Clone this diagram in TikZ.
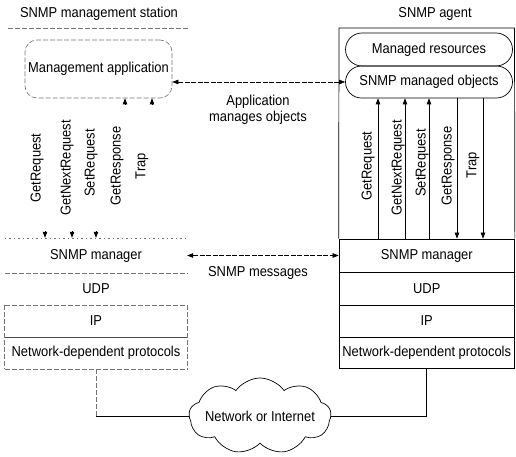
\documentclass[tikz,border=0pt]{standalone}
\usepackage{fontspec}
\setmainfont{Liberation Sans}[FakeStretch=0.9]
\usetikzlibrary{arrows.meta,shapes.symbols,shapes.misc,calc}
\begin{document}
\begin{tikzpicture}[x=1bp,y=-1bp,
  every node/.style={font=\fontsize{14.4}{16}\selectfont, inner sep=0pt},
  ln/.style={line width=0.7bp},
  faint/.style={line width=0.6bp, draw=black!55, dash pattern=on 5bp off 2bp},
  faintdot/.style={line width=0.6bp, draw=black!55, dash pattern=on 1.5bp off 3bp},
  tip/.style={-{Triangle[length=6bp,width=4.5bp]}},
  dtip/.style={{Triangle[length=6bp,width=4.5bp]}-{Triangle[length=6bp,width=4.5bp]}},
  msgline/.style={line width=0.6bp, dash pattern=on 5bp off 1.5bp},
  rrow/.style={draw, line width=0.7bp, minimum width=175.5bp},
  lrow/.style={minimum width=182bp},
  msg/.style={rotate=90},
  pill/.style={rounded rectangle, draw, line width=0.7bp, minimum width=167bp}
]
\useasboundingbox (0,0) rectangle (516,457);

% titles
\node (st) at (99,14) {SNMP management station};
\node (ag) at (435,14) {SNMP agent};

% ---------- agent (right) ----------
\node[rrow, minimum height=33bp] (rmgr) at (426.75,255.5) {SNMP manager};
\node[rrow, minimum height=33bp] (rudp) at (426.75,288.5) {UDP};
\node[rrow, minimum height=32bp] (rip) at (426.75,321) {IP};
\node[rrow, minimum height=31bp] (rndp) at (426.75,352.5) {Network-dependent protocols};
\coordinate (agtl) at (339,28);
\coordinate (agtr) at (514.5,28);
\draw[ln] (rmgr.north west) -- (agtl) -- (agtr) -- (rmgr.north east);

\node[pill, minimum height=33bp] (res) at (429,49.5) {Managed resources};
\node[pill, minimum height=32bp] (objs) at (429,82) {SNMP managed objects};

\coordinate (c1) at (378,0);
\coordinate (c2) at (405,0);
\coordinate (c3) at (429,0);
\coordinate (c4) at (457,0);
\coordinate (c5) at (483,0);
\draw[ln,tip] (c1 |- rmgr.north) -- (c1 |- objs.south);
\draw[ln,tip] (c2 |- rmgr.north) -- (c2 |- objs.south);
\draw[ln,tip] (c3 |- rmgr.north) -- (c3 |- objs.south);
\draw[ln,tip] (c4 |- objs.south) -- (c4 |- rmgr.north);
\draw[ln,tip] (c5 |- objs.south) -- (c5 |- rmgr.north);

\node[msg] (rgr) at (368,166) {GetRequest};
\node[msg] (rgnr) at (398,168) {GetNextRequest};
\node[msg] (rsr) at (422,163) {SetRequest};
\node[msg] (rgrs) at (448,166) {GetResponse};
\node[msg] (rtr) at (473,165) {Trap};

% ---------- station (left) ----------
\coordinate (sttl) at (8,28);
\coordinate (sttr) at (188,28);
\draw[faint] (sttl) -- (sttr);
\node[draw, faint, rounded corners=12bp, minimum width=147bp, minimum height=58bp] (app) at (98.5,69) {Management application};

\node[lrow, minimum height=35bp] (lmgr) at (96,255.5) {SNMP manager};
\node[lrow, minimum height=32bp] (ludp) at (96,289) {UDP};
\node[lrow, minimum height=32bp] (lip) at (96,321) {IP};
\node[lrow, minimum height=32bp] (lndp) at (96,353) {Network-dependent protocols};
\draw[faintdot] (lmgr.north west) -- (lmgr.north east);
\draw[faint] (lmgr.south west) -- (lmgr.south east);
\draw[faint] (lip.north west) -- (lip.north east);
\draw[ln, draw=black!70] (lip.south west) -- (lip.south east);
\draw[faint] (lndp.south west) -- (lndp.south east);
\draw[faint] (lip.north west) -- (lndp.south west);
\draw[faint] (lip.north east) -- (lndp.south east);

\coordinate (d1) at (45,0);
\coordinate (d2) at (72,0);
\coordinate (d3) at (96,0);
\coordinate (u1) at (125,0);
\coordinate (u2) at (152,0);
\draw[ln,tip] ($(d1 |- lmgr.north)+(0,-6.5)$) -- (d1 |- lmgr.north);
\draw[ln,tip] ($(d2 |- lmgr.north)+(0,-6.5)$) -- (d2 |- lmgr.north);
\draw[ln,tip] ($(d3 |- lmgr.north)+(0,-6.5)$) -- (d3 |- lmgr.north);
\draw[ln,tip] ($(u1 |- app.south)+(0,6.5)$) -- (u1 |- app.south);
\draw[ln,tip] ($(u2 |- app.south)+(0,6.5)$) -- (u2 |- app.south);

\node[msg] (lgr) at (37,168) {GetRequest};
\node[msg] (lgnr) at (67,168) {GetNextRequest};
\node[msg] (lsr) at (91,163) {SetRequest};
\node[msg] (lgrs) at (117,166) {GetResponse};
\node[msg] (ltr) at (142,166) {Trap};

% ---------- between ----------
\draw[msgline,dtip] (app.east |- objs.west) -- (objs.west);
\node[align=center] (amo) at (258,110) {Application\\manages objects};
\draw[msgline,dtip] (lmgr.east) -- (rmgr.west);
\node (msgs) at (258,273) {SNMP messages};

% ---------- network ----------
\node[cloud, draw, line width=0.7bp, cloud puffs=9, cloud puff arc=110, aspect=1.85,
      minimum width=142bp, minimum height=76bp, inner sep=0pt] (net) at (260,416) {};
\node (nettxt) at (net.center) {Network or Internet};
\draw[faint] (lndp.south) -- (lndp.south |- net.west);
\draw[ln] (lndp.south |- net.west) -- (net.west);
\draw[ln] (rndp.south) |- (net.east);
\end{tikzpicture}
\end{document}
